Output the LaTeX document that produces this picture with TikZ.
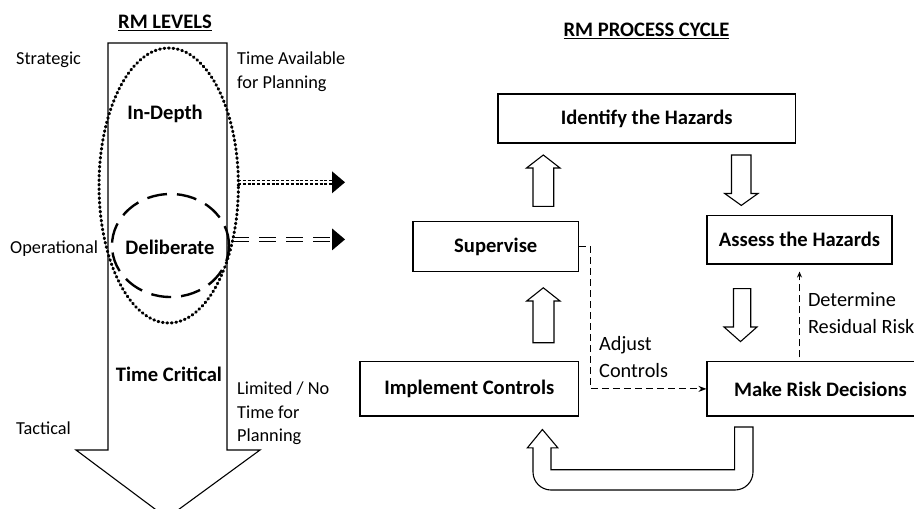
\documentclass[tikz,border=0pt]{standalone}
\usepackage{fontspec}
\setmainfont{Carlito}
\usetikzlibrary{arrows.meta,calc}
\begin{document}
\begin{tikzpicture}[x=1pt,y=-1pt,
  reg/.style={font=\fontsize{18.3}{22}\selectfont, inner sep=0pt},
  regr/.style={font=\fontsize{20.3}{24}\selectfont, inner sep=0pt},
  bld/.style={font=\bfseries\fontsize{20.6}{24}\selectfont, inner sep=0pt},
  procbox/.style={draw, line width=1.1pt, inner sep=0pt, font=\bfseries\fontsize{20.6}{24}\selectfont},
  blockarrow/.style={draw, line width=1.1pt, fill=white, line join=miter},
  dotline/.style={line width=3pt, dash pattern=on 0.9pt off 3.6pt, line cap=round},
  dashcirc/.style={line width=2.4pt, dash pattern=on 20pt off 10pt},
  dbldots/.style={line width=1.1pt, dash pattern=on 3pt off 1.8pt},
  dbldash/.style={line width=1.1pt, dash pattern=on 17pt off 10pt},
  thindash/.style={line width=1pt, dash pattern=on 7pt off 4pt},
  headtri/.style={fill=black}
]
\useasboundingbox (0,0) rectangle (914,509);

% ---------- left: RM levels ----------
\node[bld] (rmlev) at (165,23) {\underline{RM LEVELS}};

\draw[line width=1.1pt, fill=white, line join=miter]
  (108,43) -- (227,43) -- (227,450) -- (260,450) -- (167,518) -- (76,450) -- (108,450) -- cycle;

\draw[dotline] (168.7,185.5) ellipse [x radius=69.7pt, y radius=137.5pt];
\draw[dashcirc] (170.5,245.5) ellipse [x radius=58.5pt, y radius=51.5pt];

\node[bld] (indepth) at (165,114) {In-Depth};
\node[bld] (delib) at (170,247) {Deliberate};
\node[bld] (tcrit) at (169,374) {Time Critical};

\node[reg, anchor=base west] (strat) at (16,64) {Strategic};
\node[reg, anchor=base west] (oper) at (10,253) {Operational};
\node[reg, anchor=base west] (tact) at (16,434) {Tactical};

\node[reg, anchor=base west] (ta1) at (237,64) {Time Available};
\node[reg, anchor=base west] (ta2) at (237,88) {for Planning};
\node[reg, anchor=base west] (ln1) at (237,394) {Limited / No};
\node[reg, anchor=base west] (ln2) at (237,418) {Time for};
\node[reg, anchor=base west] (ln3) at (237,441) {Planning};

% double arrows
\coordinate (d1s) at (238,182.3);
\coordinate (d1e) at (332,182.3);
\coordinate (d2s) at (232,239.4);
\coordinate (d2e) at (332,239.4);
\draw[dbldots] ([yshift=-1.7pt]d1s) -- ([yshift=-1.7pt]d1e);
\draw[dbldots] ([yshift=1.7pt]d1s) -- ([yshift=1.7pt]d1e);
\draw[dbldash] ([yshift=-1.7pt]d2s) -- ([yshift=-1.7pt]d2e);
\draw[dbldash] ([yshift=1.7pt]d2s) -- ([yshift=1.7pt]d2e);
\fill[headtri] (d1e) ++(0,-11) -- ++(13,11) -- ++(-13,11) -- cycle;
\fill[headtri] (d2e) ++(0,-11) -- ++(13,11) -- ++(-13,11) -- cycle;

% ---------- right: RM process cycle ----------
\node[bld] (rmproc) at (646.5,31) {\underline{RM PROCESS CYCLE}};

\node[procbox, minimum width=297.5pt, minimum height=49pt] (ident) at (646.7,118.5) {Identify the Hazards};
\node[procbox, minimum width=185pt, minimum height=48.4pt] (assess) at (799.5,239.8) {Assess the Hazards};
\node[procbox, minimum width=165.6pt, minimum height=49.6pt] (sup) at (495.8,246.6) {Supervise};
\node[procbox, minimum width=218.6pt, minimum height=54.2pt] (impl) at (469.3,388.9) {Implement Controls};
\node[procbox, minimum width=227pt, minimum height=54.2pt] (make) at (820.5,388.9) {Make Risk Decisions};

% block arrows: up (sup -> ident)
\draw[blockarrow] (533,206.4) -- (533,168) -- (526.5,168) -- (543.3,155) -- (560,168) -- (553.7,168) -- (553.7,206.4) -- cycle;
% down (ident -> assess)
\draw[blockarrow] (731.5,155) -- (751,155) -- (751,193.5) -- (758,193.5) -- (741.3,205.4) -- (724.7,193.5) -- (731.5,193.5) -- cycle;
% up (impl -> sup)
\draw[blockarrow] (533,342.7) -- (533,301) -- (526.7,301) -- (543.3,287.8) -- (560,301) -- (554,301) -- (554,342.7) -- cycle;
% down (assess -> make)
\draw[blockarrow] (733.5,288.6) -- (750.7,288.6) -- (750.7,327) -- (757,327) -- (740.5,341.6) -- (724,327) -- (733.5,327) -- cycle;
% U-shaped (make -> impl)
\draw[blockarrow] (734.6,427) -- (734.6,469.7) -- (551,469.7) -- (551,447.8) -- (557.8,447.8) -- (542.4,429.5) -- (527.4,447.8) -- (533,447.8)
  [rounded corners=18pt] -- (533,490) -- (753,490) [sharp corners] -- (753,427) -- cycle;

% dashed connectors
\draw[thindash, -{Stealth[length=8pt,width=6pt]}] (sup.east) -- ++(11.5,0) |- (make.west);
\draw[thindash, -{Stealth[length=6pt,width=5pt]}] ([yshift=4pt]make.north -| assess.south) -- ([yshift=-7pt]assess.south);

\node[regr, anchor=base west] (adj1) at (599,350.5) {Adjust};
\node[regr, anchor=base west] (adj2) at (599,377.5) {Controls};
\node[regr, anchor=base west] (det1) at (807.8,306) {Determine};
\node[regr, anchor=base west] (det2) at (807.8,333) {Residual Risk};
\end{tikzpicture}
\end{document}
